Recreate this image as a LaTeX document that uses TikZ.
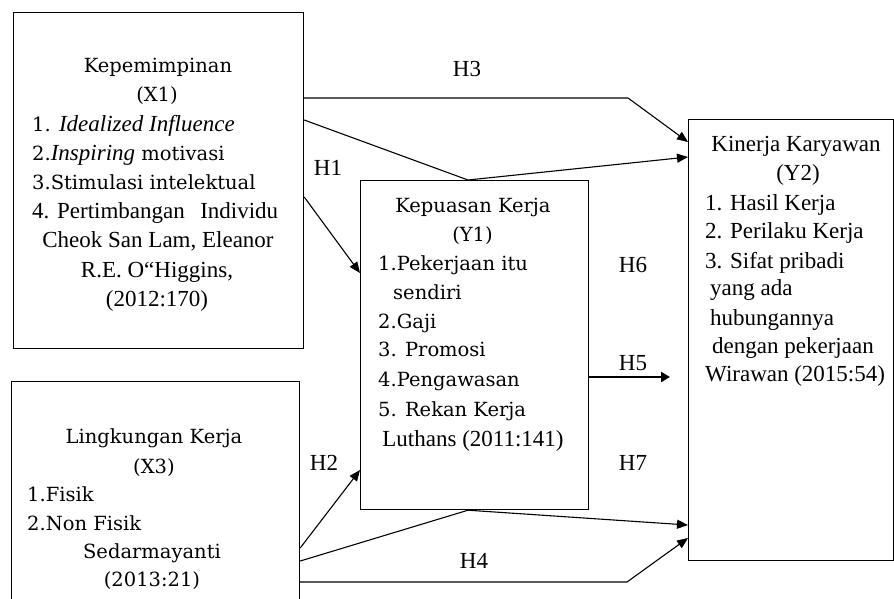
\documentclass[tikz,border=0pt]{standalone}
\usepackage{fontspec}
\setmainfont{Liberation Serif}
\newfontfamily\camb{DejaVu Serif}
\newfontfamily\tmsit{Liberation Serif Italic}
\usetikzlibrary{arrows.meta}
\begin{document}
\begin{tikzpicture}[x=1pt,y=-1pt,
  box/.style={draw, line width=1.2pt, anchor=north west, inner sep=0pt},
  tm/.style={font=\fontsize{23}{29}\selectfont, inner sep=0pt},
  cb/.style={font=\camb\fontsize{19.5}{29}\selectfont, inner sep=0pt},
  conn/.style={line width=1.1pt, -{Triangle[length=11pt,width=9pt]}},
  thickconn/.style={line width=2.6pt, -{Triangle[length=9pt,width=10pt]}},
  lbl/.style={tm, anchor=base}]
\useasboundingbox (0,0) rectangle (894,598);
\fill[white] (0,0) rectangle (894,598);
\clip (0,0) rectangle (894,598);

% boxes
\node[box, minimum width=290pt, minimum height=336pt] (x1) at (13,12) {};
\node[box, minimum width=228pt, minimum height=329pt] (y1) at (360,180) {};
\node[box, minimum width=205pt, minimum height=441pt] (y2) at (688,119) {};
\node[box, minimum width=288pt, minimum height=235pt] (x3) at (11,381) {};

% X1 text
\node[cb, anchor=base] (x1a) at (158,72.5) {Kepemimpinan};
\node[cb, anchor=base] (x1b) at (157,101.7) {(X1)};
\node[cb, anchor=base west] (x1c) at (32,131) {1. {\tmsit\fontsize{23}{29}\selectfont Idealized Influence}};
\node[cb, anchor=base west] (x1d) at (32,160) {2.{\tmsit\fontsize{23}{29}\selectfont Inspiring} motivasi};
\node[cb, anchor=base west] (x1e) at (32,189) {3.Stimulasi intelektual};
\node[tm, anchor=base west] (x1f) at (32,218.5) {\hbox to 246pt{4. Pertimbangan\hfill Individu}};
\node[tm, anchor=base] (x1g) at (158,247.5) {Cheok San Lam, Eleanor};
\node[tm, anchor=base] (x1h) at (157,277) {R.E. O“Higgins,};
\node[tm, anchor=base] (x1i) at (157,306) {(2012:170)};

% Y1 text
\node[cb, anchor=base] (y1a) at (473,212.7) {Kepuasan Kerja};
\node[cb, anchor=base] (y1b) at (472.5,241.7) {(Y1)};
\node[cb, anchor=base west] (y1c) at (378,270) {1.Pekerjaan itu};
\node[cb, anchor=base west] (y1d) at (393,299.3) {sendiri};
\node[cb, anchor=base west] (y1e) at (378,328) {2.Gaji};
\node[cb, anchor=base west] (y1f) at (378,356.7) {3. Promosi};
\node[cb, anchor=base west] (y1g) at (378,386) {4.Pengawasan};
\node[cb, anchor=base west] (y1h) at (378,416) {5. Rekan Kerja};
\node[tm, anchor=base] (y1i) at (473,446) {Luthans (2011:141)};

% X3 text
\node[cb, anchor=base] (x3a) at (154,443) {Lingkungan Kerja};
\node[cb, anchor=base] (x3b) at (154,473) {(X3)};
\node[cb, anchor=base west] (x3c) at (27,501.7) {1.Fisik};
\node[cb, anchor=base west] (x3d) at (27,530) {2.Non Fisik};
\node[cb, anchor=base] (x3e) at (152,558) {Sedarmayanti};
\node[cb, anchor=base] (x3f) at (152,586.7) {(2013:21)};

% Y2 text
\node[tm, anchor=base] (y2a) at (796,151.7) {Kinerja Karyawan};
\node[tm, anchor=base] (y2b) at (798,180) {(Y2)};
\node[tm, anchor=base west] (y2c) at (705,210) {1. Hasil Kerja};
\node[tm, anchor=base west] (y2d) at (705,238) {2. Perilaku Kerja};
\node[tm, anchor=base west] (y2e) at (705,268) {3. Sifat pribadi};
\node[tm, anchor=base west] (y2f) at (710,295) {yang ada};
\node[tm, anchor=base west] (y2g) at (710,325) {hubungannya};
\node[tm, anchor=base west] (y2h) at (712,353) {dengan pekerjaan};
\node[tm, anchor=base west] (y2i) at (705,381.7) {Wirawan (2015:54)};

% labels
\node[lbl] (h3) at (467,76) {H3};
\node[lbl] (h1) at (328,175) {H1};
\node[lbl] (h6) at (633,272.7) {H6};
\node[lbl] (h5) at (633,370) {H5};
\node[lbl] (h7) at (633,470.7) {H7};
\node[lbl] (h2) at (324,470.7) {H2};
\node[lbl] (h4) at (474,568) {H4};

% bend coordinates
\coordinate (h3b) at (628,98);
\coordinate (h4b) at (627,582);
\coordinate (h5e) at (670,377);

% connectors
\draw[conn] ([yshift=-86pt]x1.north east) -- (h3b) -- ([yshift=-23pt]y2.north west);
\draw[conn] ([yshift=-108pt]x1.north east) -- ([xshift=108pt]y1.north west) -- ([yshift=-38pt]y2.north west);
\draw[conn] ([yshift=-185pt]x1.north east) -- ([yshift=-93pt]y1.north west);
\draw[thickconn] ([yshift=-197pt]y1.north east) -- (h5e);
\draw[conn] ([yshift=-167pt]x3.north east) -- ([yshift=-290pt]y1.north west);
\draw[conn] ([yshift=-180pt]x3.north east) -- ([xshift=108pt]y1.south west) -- ([yshift=-406pt]y2.north west);
\draw[conn] ([yshift=-201pt]x3.north east) -- (h4b) -- ([yshift=-419pt]y2.north west);
\end{tikzpicture}
\end{document}
